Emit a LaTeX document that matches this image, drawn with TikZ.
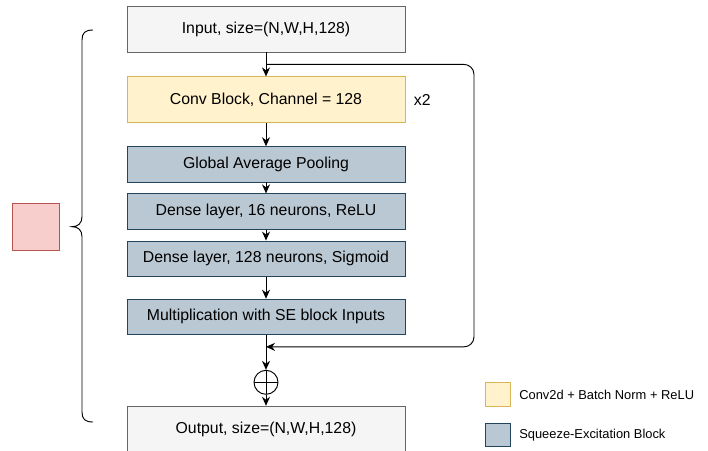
\documentclass[tikz,border=0pt]{standalone}
\usepackage{fontspec}
\setmainfont{Liberation Sans}
\usepackage{xcolor}
\usetikzlibrary{arrows.meta,calc,positioning}

\definecolor{iofill}{HTML}{F5F5F5}
\definecolor{ioline}{HTML}{666666}
\definecolor{convfill}{HTML}{FFF2CC}
\definecolor{convline}{HTML}{D6B656}
\definecolor{sefill}{HTML}{BAC8D3}
\definecolor{seline}{HTML}{23445D}
\definecolor{pinkfill}{HTML}{F8CECC}
\definecolor{pinkline}{HTML}{B85450}

\begin{document}
\begin{tikzpicture}[node distance=0.33cm,
  blk/.style={draw=#1,line width=0.7pt,minimum width=8.34cm,inner sep=0pt,font=\fontsize{13.5}{16}\selectfont},
  io/.style={blk=ioline,fill=iofill,minimum height=1.38cm},
  conv/.style={blk=convline,fill=convfill,minimum height=1.38cm},
  se/.style={blk=seline,fill=sefill,minimum height=1.06cm},
  key/.style={draw=#1,line width=0.7pt,minimum width=0.75cm,minimum height=0.7cm,inner sep=0pt},
  keytext/.style={inner sep=0pt,font=\fontsize{11}{13}\selectfont},
  flow/.style={-{Stealth[length=0.27cm,width=0.24cm]},line width=0.8pt}]
  \useasboundingbox (0,0) rectangle (21.24,-13.5);

  % main column
  \node[io] (input) at (7.98,-0.87) {Input, size=(N,W,H,128)};
  \node[conv,below=0.72cm of input] (conv) {Conv Block, Channel = 128};
  \node[inner sep=0pt,font=\fontsize{13.5}{16}\selectfont,right=0.25cm of conv] (rep) {x2};
  \node[se,below=0.69cm of conv] (gap) {Global Average Pooling};
  \node[se,below=of gap] (dense1) {Dense layer, 16 neurons, ReLU};
  \node[se,below=of dense1] (dense2) {Dense layer, 128 neurons, Sigmoid};
  \node[se,below=0.66cm of dense2] (mult) {Multiplication with SE block Inputs};
  \node[circle,draw,line width=0.8pt,minimum size=0.72cm,inner sep=0pt,below=1.05cm of mult,
    path picture={\draw[line width=0.8pt] (path picture bounding box.north) -- (path picture bounding box.south)
      (path picture bounding box.west) -- (path picture bounding box.east);}] (add) {};
  \node[io,below=of add] (output) {Output, size=(N,W,H,128)};

  \draw[flow] (input) -- (conv);
  \draw[flow] (conv) -- (gap);
  \draw[flow] (gap) -- (dense1);
  \draw[flow] (dense1) -- (dense2);
  \draw[flow] (dense2) -- (mult);
  \draw[flow] (mult) -- (add);
  \draw[flow] (add) -- (output);

  % skip connection round the block
  \coordinate (split) at ($(input.south)+(0,-0.36)$);
  \coordinate (join) at ($(mult.south)+(0,-0.36)$);
  \draw[flow,rounded corners=0.3cm] (split) -- ($(split)+(6.24,0)$) |- (join);

  % brace and marker on the left
  \draw[line width=0.8pt] (2.79,-0.9) .. controls (2.55,-0.9) and (2.46,-0.99) .. (2.46,-1.2)
    -- (2.46,-6.5) .. controls (2.46,-6.7) and (2.34,-6.8) .. (2.16,-6.8)
    .. controls (2.34,-6.8) and (2.46,-6.9) .. (2.46,-7.1)
    -- (2.46,-12.36) .. controls (2.46,-12.57) and (2.55,-12.66) .. (2.79,-12.66);
  \node[draw=pinkline,fill=pinkfill,line width=0.7pt,minimum size=1.41cm,inner sep=0pt] (mark) at (1.065,-6.8) {};

  % legend
  \node[key=convline,fill=convfill] (keyconv) at (14.925,-11.835) {};
  \node[keytext,right=0.26cm of keyconv] (keyconvtxt) {Conv2d + Batch Norm + ReLU};
  \node[key=seline,fill=sefill] (keyse) at (14.925,-13.05) {};
  \node[keytext,right=0.26cm of keyse] (keysetxt) {Squeeze-Excitation Block};
\end{tikzpicture}
\end{document}
